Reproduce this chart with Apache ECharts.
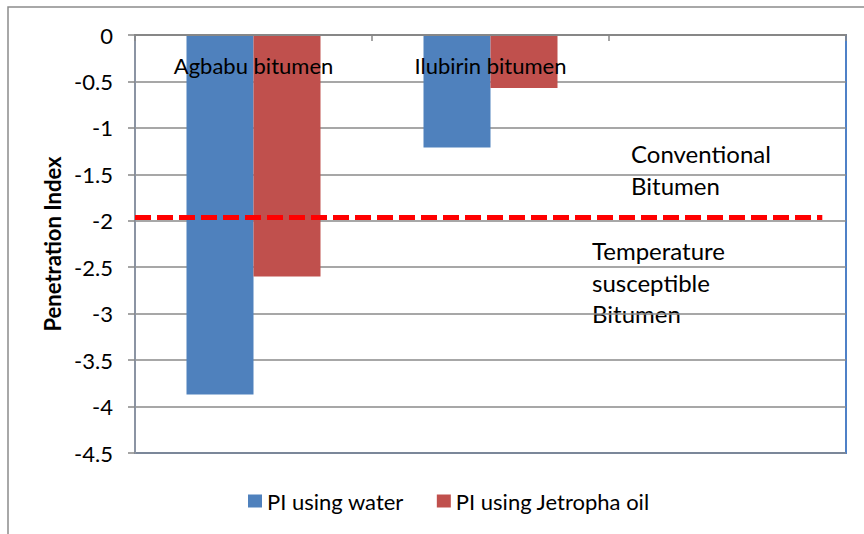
<!DOCTYPE html>
<html>
<head>
<meta charset="utf-8">
<script src="https://cdn.jsdelivr.net/npm/echarts@6/dist/echarts.min.js"></script>
<style>
html,body{margin:0;padding:0;background:#fff;}
#chart{width:864px;height:534px;}
</style>
</head>
<body>
<div id="chart"></div>
<script>
// ---- data ----
const categories = ["Agbabu bitumen", "Ilubirin bitumen", ""];
const seriesNames = ["PI using water", "PI using Jetropha oil"];
const piWater = [-3.87, -1.21, null];
const piJetropha = [-2.6, -0.57, null];
const thresholdLine = [[0, -1.965], [2.9, -1.965]];
const yTicks = { min: -4.5, max: 0, interval: 0.5 };
const annotationUpper = "Conventional\nBitumen";
const annotationLower = "Temperature\nsusceptible\nBitumen";
const yAxisTitle = "Penetration Index";

const FONT = "Lato";
const chart = echarts.init(document.getElementById('chart'), null, { renderer: 'svg' });
const option = {
  backgroundColor: '#fff',
  animation: false,
  textStyle: { fontFamily: FONT },
  grid: {
    left: 135, right: 18, top: 35, bottom: 81,
    show: true, borderColor: '#4f81c7', borderWidth: 2, backgroundColor: 'transparent'
  },
  legend: {
    data: seriesNames,
    left: 243, top: 485,
    icon: 'rect', itemWidth: 14, itemHeight: 13, itemGap: 33,
    textStyle: { fontFamily: FONT, fontSize: 22, color: '#000' }
  },
  xAxis: [{
    type: 'category',
    data: categories,
    position: 'top',
    z: 10,
    axisLine: { onZero: false, lineStyle: { color: '#878787', width: 2 } },
    axisTick: { show: true, inside: true, length: 6, interval: 0, lineStyle: { color: '#878787', width: 1.5 } },
    axisLabel: { inside: true, interval: 0, margin: 19, fontFamily: FONT, fontSize: 22, color: '#000' }
  }, {
    type: 'value', min: 0, max: 3, show: false
  }],
  yAxis: {
    type: 'value',
    min: yTicks.min, max: yTicks.max, interval: yTicks.interval,
    name: yAxisTitle,
    nameLocation: 'middle',
    nameGap: 70,
    nameTextStyle: { fontFamily: FONT, fontSize: 22, fontWeight: 'bold', color: '#000' },
    axisLine: { show: true, lineStyle: { color: '#8b94a3', width: 2 } },
    axisTick: { show: true, length: 7, lineStyle: { color: '#878787', width: 1.5 } },
    axisLabel: { margin: 22, fontFamily: FONT, fontSize: 22, color: '#000' },
    splitLine: { show: true, lineStyle: { color: '#8a8a8a', width: 1.5 } }
  },
  graphic: [
    { type: 'rect', shape: { x: 8, y: 7, width: 900, height: 600 },
      style: { fill: 'none', stroke: '#8c8c8c', lineWidth: 1.5 }, silent: true, z: -10 },
    { type: 'text', left: 631, top: 137,
      style: { text: annotationUpper, fontFamily: FONT, fontSize: 24, lineHeight: 32, fill: '#000' } },
    { type: 'text', left: 592, top: 235,
      style: { text: annotationLower, fontFamily: FONT, fontSize: 24, lineHeight: 31.5, fill: '#000' } }
  ],
  series: [
    {
      name: seriesNames[0], type: 'bar', data: piWater,
      barWidth: 67, barGap: '0%',
      itemStyle: { color: '#4f81bd' }
    },
    {
      name: seriesNames[1], type: 'bar', data: piJetropha,
      barWidth: 67, barGap: '0%',
      itemStyle: { color: '#c0504d' }
    },
    {
      name: 'threshold', type: 'line', xAxisIndex: 1, data: thresholdLine,
      symbol: 'none', z: 5,
      lineStyle: { color: '#ff0000', width: 5, type: [16, 6], cap: 'butt' }
    }
  ]
};
chart.setOption(option);
</script>
</body>
</html>
